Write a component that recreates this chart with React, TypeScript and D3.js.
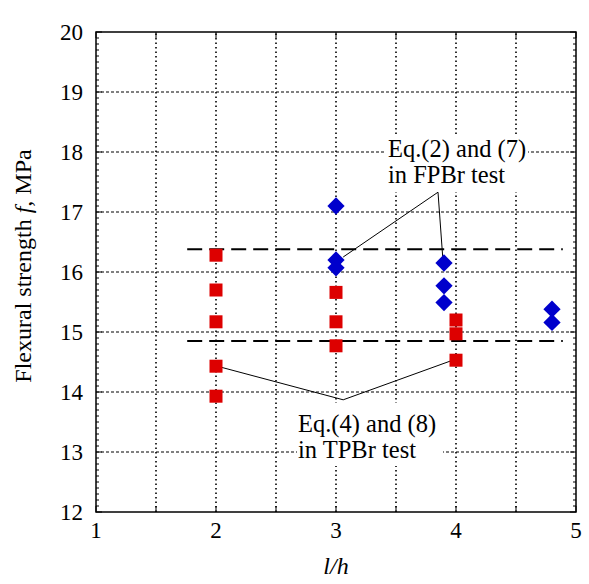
import React from 'react';
import * as d3 from 'd3';

// measured values
const redX = [2, 2, 2, 2, 2, 3, 3, 3, 4, 4, 4];
const redY = [16.28, 15.7, 15.17, 14.43, 13.93, 15.66, 15.17, 14.77, 15.2, 14.97, 14.53];
const blueX = [3, 3, 3, 3.9, 3.9, 3.9, 4.8, 4.8];
const blueY = [17.1, 16.2, 16.07, 16.15, 15.77, 15.49, 15.38, 15.16];
const refY = [16.38, 14.85];
const refX = [1.76, 4.89];
const xTicks = [1, 2, 3, 4, 5];
const yTicks = [12, 13, 14, 15, 16, 17, 18, 19, 20];
const xGrid = [1.5, 2, 2.5, 3, 3.5, 4, 4.5];

const upperVertex = [3.85, 17.33];
const upperTargets = [[3.06, 16.25], [3.89, 16.23]];
const lowerVertex = [3.06, 13.87];
const lowerTargets = [[2.01, 14.43], [4.0, 14.55]];

const font = '"Liberation Serif", "Times New Roman", serif';

export default function App() {
  const width = 589;
  const height = 584;
  const x = d3.scaleLinear().domain([1, 5]).range([96, 576]);
  const y = d3.scaleLinear().domain([12, 20]).range([512, 32]);

  const minorY = d3.range(12, 20.001, 0.1).map(v => Math.round(v * 10) / 10).filter(v => v % 1 !== 0);
  const majorX = d3.range(1, 5.001, 0.5);

  const diamond = d3.symbol().type(d3.symbolDiamond2).size(190)();

  const line = d3.line();

  return (
    <svg width={width} height={height} style={{ position: 'absolute', left: 0, top: 0 }}>
      <rect width={width} height={height} fill="white" />
      {/* horizontal grid */}
      {yTicks.slice(1, -1).map(t => (
        <line key={'hg' + t} x1={x(1)} x2={x(5)} y1={y(t)} y2={y(t)}
          stroke="black" strokeWidth={1} strokeDasharray="3,2" />
      ))}
      {/* vertical grid */}
      {xGrid.map(t => (
        <line key={'vg' + t} x1={x(t)} x2={x(t)} y1={y(12)} y2={y(20)}
          stroke="black" strokeWidth={1.6} strokeDasharray="1.5,3" />
      ))}
      {/* ticks */}
      {minorY.map(t => (
        <g key={'my' + t}>
          <line x1={x(1)} x2={x(1) + 3} y1={y(t)} y2={y(t)} stroke="black" />
          <line x1={x(5)} x2={x(5) - 3} y1={y(t)} y2={y(t)} stroke="black" />
        </g>
      ))}
      {yTicks.map(t => (
        <g key={'My' + t}>
          <line x1={x(1)} x2={x(1) + 6} y1={y(t)} y2={y(t)} stroke="black" />
          <line x1={x(5)} x2={x(5) - 6} y1={y(t)} y2={y(t)} stroke="black" />
        </g>
      ))}
      {majorX.map(t => (
        <g key={'Mx' + t}>
          <line x1={x(t)} x2={x(t)} y1={y(12)} y2={y(12) - 6} stroke="black" />
          <line x1={x(t)} x2={x(t)} y1={y(20)} y2={y(20) + 6} stroke="black" />
        </g>
      ))}
      {/* reference lines */}
      {refY.map(v => (
        <line key={'ref' + v} x1={x(refX[0])} x2={x(refX[1])} y1={y(v)} y2={y(v)}
          stroke="black" strokeWidth={2} strokeDasharray="15,7" />
      ))}
      {/* annotation boxes */}
      <rect x={384} y={136} width={144} height={56} fill="white" />
      <rect x={297} y={403} width={146} height={63} fill="white" />
      <g fontFamily={font} fontSize={24.5} fill="black">
        <text x={388} y={157}>Eq.(2) and (7)</text>
        <text x={388} y={183}>in FPBr test</text>
        <text x={298} y={432}>Eq.(4) and (8)</text>
        <text x={298} y={458}>in TPBr test</text>
      </g>
      {upperTargets.map((p, i) => (
        <path key={'ua' + i} d={line([[x(upperVertex[0]), y(upperVertex[1])], [x(p[0]), y(p[1])]]) || ''}
          stroke="black" strokeWidth={1} fill="none" />
      ))}
      {lowerTargets.map((p, i) => (
        <path key={'la' + i} d={line([[x(lowerVertex[0]), y(lowerVertex[1])], [x(p[0]), y(p[1])]]) || ''}
          stroke="black" strokeWidth={1} fill="none" />
      ))}
      {/* markers */}
      {redX.map((v, i) => (
        <rect key={'r' + i} x={x(v) - 6.5} y={y(redY[i]) - 6.5} width={13} height={13} fill="#dd0000" />
      ))}
      {blueX.map((v, i) => (
        <path key={'b' + i} d={diamond || ''} transform={`translate(${x(v)},${y(blueY[i])})`} fill="#0000cc" />
      ))}
      {/* frame */}
      <rect x={x(1)} y={y(20)} width={x(5) - x(1)} height={y(12) - y(20)} fill="none" stroke="black" strokeWidth={1.5} />
      {/* tick labels */}
      <g fontFamily={font} fontSize={23} fill="black">
        {yTicks.map(t => (
          <text key={'yl' + t} x={83} y={y(t) + 8} textAnchor="end">{t}</text>
        ))}
        {xTicks.map(t => (
          <text key={'xl' + t} x={x(t)} y={538} textAnchor="middle">{t}</text>
        ))}
      </g>
      <text x={336} y={574} textAnchor="middle" fontFamily={font} fontSize={24} fontStyle="italic">l/h</text>
      <text transform={`translate(31,266) rotate(-90)`} textAnchor="middle" fontFamily={font} fontSize={24}>
        Flexural strength <tspan fontStyle="italic">f</tspan>, MPa
      </text>
    </svg>
  );
}
